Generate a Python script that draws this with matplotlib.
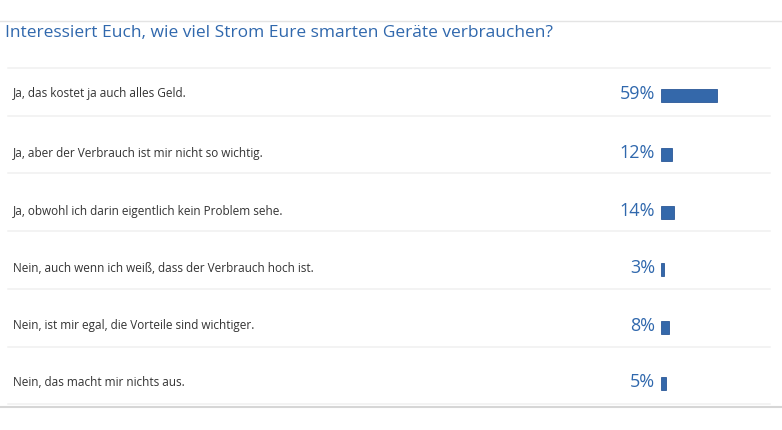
import matplotlib.pyplot as plt

# poll answers and their shares (percent)
answers = [
    "Ja, das kostet ja auch alles Geld.",
    "Ja, aber der Verbrauch ist mir nicht so wichtig.",
    "Ja, obwohl ich darin eigentlich kein Problem sehe.",
    "Nein, auch wenn ich weiß, dass der Verbrauch hoch ist.",
    "Nein, ist mir egal, die Vorteile sind wichtiger.",
    "Nein, das macht mir nichts aus.",
]
shares = [59, 12, 14, 3, 8, 5]
title = "Interessiert Euch, wie viel Strom Eure smarten Geräte verbrauchen?"

blue = "#3068ad"
plt.rcParams['font.family'] = ['Open Sans', 'DejaVu Sans']

fig = plt.figure(figsize=(7.82, 4.30), dpi=100)
ax = fig.add_axes([0, 0, 1, 1])
ax.set_xlim(0, 782)
ax.set_ylim(430, 0)
ax.axis('off')

# frame lines
ax.plot([0, 782], [21, 21], color="#e4e4e4", lw=1)
ax.plot([0, 782], [407, 407], color="#d6d6d6", lw=1.5)

ax.text(5, 33, title, color=blue, fontsize=12.5, va='center', ha='left')

row_centers = [94, 153, 211, 268, 326, 382]
separators = [68, 116, 173, 231, 289, 347, 404]
for y in separators:
    ax.plot([8, 770], [y, y], color="#f0f0f0", lw=1.1)

px_per_pct = 0.95
bar_left = 661
ax.barh([y + 1 for y in row_centers], [s * px_per_pct for s in shares],
        left=bar_left, height=13, color="#3468aa", edgecolor="#2a5898", lw=0.6)

for y, a, s in zip(row_centers, answers, shares):
    ax.text(13, y, a, color="#333333", fontsize=8.5, va='center', ha='left')
    ax.text(655, y, f"{s}%", color=blue, fontsize=13, va='center', ha='right')

fig.savefig("out.png", dpi=100)
